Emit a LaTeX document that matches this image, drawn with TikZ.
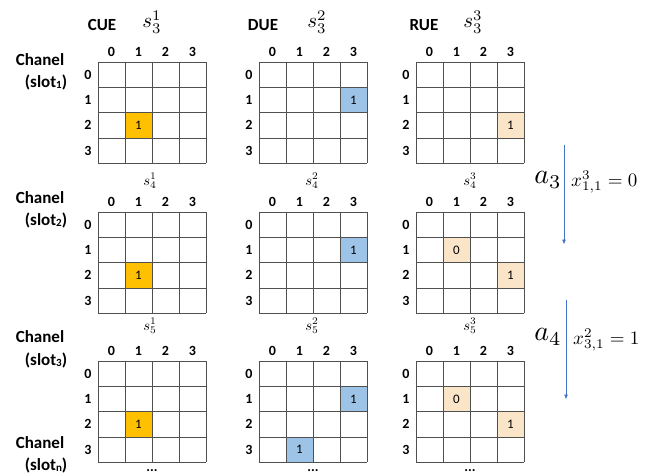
\documentclass[tikz,border=0pt]{standalone}
\usepackage{graphicx}
\usepackage{fontspec}
\setmainfont{Carlito}
\usetikzlibrary{arrows.meta}
\definecolor{cueorange}{HTML}{FFC000}
\definecolor{dueblue}{HTML}{9DC3E6}
\definecolor{ruepeach}{HTML}{FBE5C8}
\definecolor{gridgray}{HTML}{505050}
\definecolor{arrowblue}{HTML}{4472C4}
\tikzset{
  gridline/.style={draw=gridgray, line width=0.7pt},
  axislabel/.style={font=\fontsize{14}{16}\selectfont\bfseries, inner sep=0pt},
  celltext/.style={font=\fontsize{13}{15}\selectfont, inner sep=0pt},
  uelabel/.style={font=\fontsize{17}{20}\selectfont\bfseries, inner sep=0pt},
  chanlabel/.style={font=\fontsize{17}{20}\selectfont\bfseries, inner sep=0pt},
  mathlabel/.style={font=\fontsize{10}{12}\selectfont, inner sep=0pt},
  flowarrow/.style={draw=arrowblue, line width=0.6pt, -{Triangle[length=4.5pt,width=3.5pt]}},
}
\newcommand\bigst[1]{\scalebox{2.1}{$#1$}}
\newcommand\smallst[1]{\scalebox{1.45}{$#1$}}
\newcommand\actm[1]{\scalebox{2.8}{$#1$}}
\newcommand\eqm[1]{\scalebox{1.9}{$#1$}}
\newcommand\mkgrid[2]{%
  \foreach \i in {0,...,4} {
    \draw[gridline] (#1+\i*27,#2) -- (#1+\i*27,#2+101.2);
    \draw[gridline] (#1,#2+\i*25.3) -- (#1+108,#2+\i*25.3);
  }
  \foreach \i in {0,...,3} {
    \node[axislabel] at (#1+13.5+\i*27,#2-10) {\i};
    \node[axislabel] at (#1-10,#2+12.65+\i*25.3) {\i};
  }
}
\newcommand\mkcell[6]{%
  \fill[#5] (#1+#3*27,#2+#4*25.3) rectangle ++(27,25.3);
  \node[celltext] at (#1+#3*27+13.5,#2+#4*25.3+12.65) {#6};
}
\newcommand\slotsub[1]{\raisebox{-0.15ex}{\fontsize{11}{12}\selectfont #1}}
\begin{document}
\begin{tikzpicture}[x=1pt,y=-1pt]
\useasboundingbox (0,0) rectangle (645,475);
% highlighted cells
\mkcell{98}{62}{1}{2}{cueorange}{1}
\mkcell{259}{62}{3}{1}{dueblue}{1}
\mkcell{416}{62}{3}{2}{ruepeach}{1}
\mkcell{98}{212}{1}{2}{cueorange}{1}
\mkcell{259}{212}{3}{1}{dueblue}{1}
\mkcell{416}{212}{1}{1}{ruepeach}{0}
\mkcell{416}{212}{3}{2}{ruepeach}{1}
\mkcell{98}{361}{1}{2}{cueorange}{1}
\mkcell{259}{361}{3}{1}{dueblue}{1}
\mkcell{259}{361}{1}{3}{dueblue}{1}
\mkcell{416}{361}{1}{1}{ruepeach}{0}
\mkcell{416}{361}{3}{2}{ruepeach}{1}
% grids
\mkgrid{98}{62}
\mkgrid{259}{62}
\mkgrid{416}{62}
\mkgrid{98}{212}
\mkgrid{259}{212}
\mkgrid{416}{212}
\mkgrid{98}{361}
\mkgrid{259}{361}
\mkgrid{416}{361}
% UE headers
\node[uelabel] (cue) at (102,25) {CUE};
\node[uelabel] (due) at (263,25) {DUE};
\node[uelabel] (rue) at (424,25) {RUE};
\node[mathlabel] (s31) at (152,22) {\bigst{s_3^1}};
\node[mathlabel] (s32) at (317,22) {\bigst{s_3^2}};
\node[mathlabel] (s33) at (473,22) {\bigst{s_3^3}};
\node[mathlabel] (s41) at (150,181) {\smallst{s_4^1}};
\node[mathlabel] (s42) at (312,181) {\smallst{s_4^2}};
\node[mathlabel] (s43) at (470,181) {\smallst{s_4^3}};
\node[mathlabel] (s51) at (150,326) {\smallst{s_5^1}};
\node[mathlabel] (s52) at (312,326) {\smallst{s_5^2}};
\node[mathlabel] (s53) at (470,326) {\smallst{s_5^3}};
% channel labels
\node[chanlabel] (ch1a) at (40,60) {Chanel};
\node[chanlabel] (ch1b) at (46,82) {(slot\slotsub{1})};
\node[chanlabel] (ch2a) at (40,198) {Chanel};
\node[chanlabel] (ch2b) at (46,220) {(slot\slotsub{2})};
\node[chanlabel] (ch3a) at (40,337) {Chanel};
\node[chanlabel] (ch3b) at (46,360) {(slot\slotsub{3})};
\node[chanlabel] (ch4a) at (40,443) {Chanel};
\node[chanlabel] (ch4b) at (46,465) {(slot\slotsub{n})};
% dots
\node[axislabel] (d1) at (152,471) {...};
\node[axislabel] (d2) at (313,471) {...};
\node[axislabel] (d3) at (470,471) {...};
% transitions
\coordinate (a1s) at (564,145);
\coordinate (a1e) at (564,244);
\coordinate (a2s) at (566,300);
\coordinate (a2e) at (566,399);
\draw[flowarrow] (a1s) -- (a1e);
\draw[flowarrow] (a2s) -- (a2e);
\node[mathlabel] (act3) at (548,180) {\actm{a_3}};
\node[mathlabel, anchor=west] (eq3) at (571,182) {\eqm{x^{3}_{1,1}=0}};
\node[mathlabel] (act4) at (548,337) {\actm{a_4}};
\node[mathlabel, anchor=west] (eq4) at (573,340) {\eqm{x^{2}_{3,1}=1}};
\end{tikzpicture}
\end{document}
